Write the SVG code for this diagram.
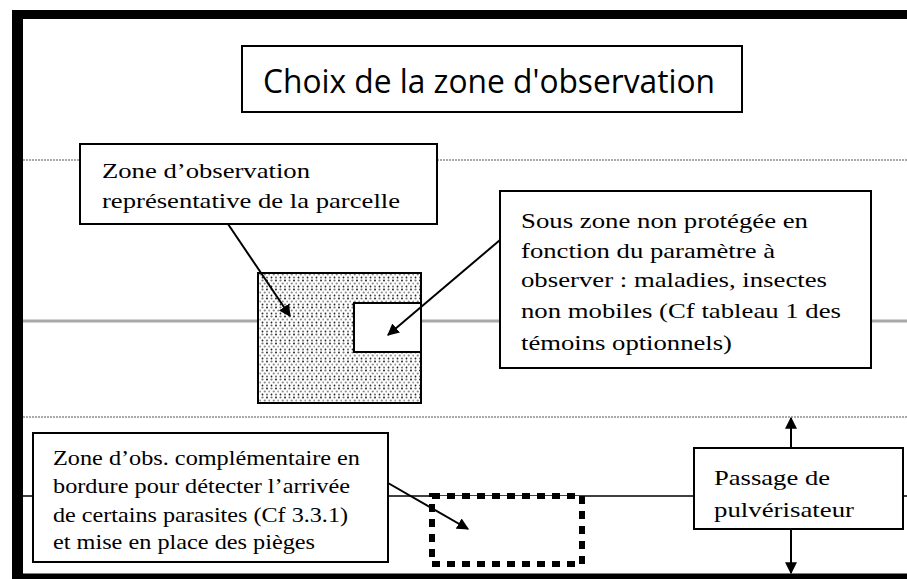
<svg xmlns="http://www.w3.org/2000/svg" width="907" height="579" viewBox="0 0 907 579">
<style>
.box{fill:#fff;stroke:#000;stroke-width:2}
.t{font-family:"Liberation Serif","Times New Roman",serif;font-size:22px;fill:#000}
.title{font-family:"Open Sans","DejaVu Sans",sans-serif;font-size:33px;fill:#000}
.dot{stroke:#aaa;stroke-width:2;stroke-dasharray:2 1}
.gray{stroke:#a8a8a8;stroke-width:3}
.ln{stroke:#000;stroke-width:2;fill:none}
</style>
<defs>
<marker id="ah" viewBox="0 0 10 10" refX="9" refY="5" markerWidth="6" markerHeight="6" orient="auto-start-reverse" markerUnits="strokeWidth">
<path d="M0,0 L10,5 L0,10 z" fill="#000"/>
</marker>
<pattern id="stip" width="9" height="9" patternUnits="userSpaceOnUse">
<rect width="9" height="9" fill="#fff"/>
<circle cx="1.5" cy="1.5" r="1.1" fill="#777"/>
<circle cx="6" cy="1.5" r="0.9" fill="#111"/>
<circle cx="3.75" cy="4.5" r="1.1" fill="#888"/>
<circle cx="8.25" cy="4.5" r="1" fill="#999"/>
<circle cx="1.5" cy="7.5" r="0.9" fill="#222"/>
<circle cx="6" cy="7.5" r="1.1" fill="#777"/>
</pattern>
</defs>

<rect width="907" height="579" fill="#fff"/>

<!-- frame -->
<g id="frame">
<line x1="12" y1="14.5" x2="907" y2="14.5" stroke="#000" stroke-width="9"/>
<line x1="17.5" y1="10" x2="17.5" y2="579" stroke="#000" stroke-width="11"/>
<line x1="12" y1="577" x2="907" y2="577" stroke="#000" stroke-width="7"/>
</g>

<!-- background lines -->
<g id="rows">
<line class="dot" x1="23" y1="160" x2="907" y2="160"/>
<line class="gray" x1="23" y1="321" x2="907" y2="321"/>
<line class="dot" x1="23" y1="417" x2="907" y2="417"/>
<line stroke="#000" stroke-width="1.5" x1="23" y1="496" x2="907" y2="496"/>
</g>

<g id="title">
<rect class="box" x="242" y="46" width="500" height="66"/>
<text class="title" x="263" y="93" textLength="452" lengthAdjust="spacingAndGlyphs">Choix de la zone d'observation</text>
</g>

<g id="zone-obs">
<rect x="258" y="273" width="163" height="130" fill="url(#stip)" stroke="#000" stroke-width="2"/>
</g>

<g id="sous-zone">
<rect class="box" x="354" y="303" width="67" height="49"/>
</g>

<g id="zone-bordure">
<rect x="432" y="496" width="150" height="68" fill="#fff" stroke="#000" stroke-width="6" stroke-dasharray="8 7"/>
</g>

<g id="label-zone-obs">
<rect class="box" x="80" y="144" width="357" height="80"/>
<text class="t" x="102" y="178" textLength="208" lengthAdjust="spacingAndGlyphs">Zone d’observation</text>
<text class="t" x="102" y="208" textLength="298" lengthAdjust="spacingAndGlyphs">représentative de la parcelle</text>
</g>

<g id="label-sous-zone">
<rect class="box" x="500" y="191" width="371" height="177"/>
<text class="t" x="521" y="228" textLength="287" lengthAdjust="spacingAndGlyphs">Sous zone non protégée en</text>
<text class="t" x="521" y="258" textLength="254" lengthAdjust="spacingAndGlyphs">fonction du paramètre à</text>
<text class="t" x="521" y="287" textLength="306" lengthAdjust="spacingAndGlyphs">observer : maladies, insectes</text>
<text class="t" x="521" y="318" textLength="320" lengthAdjust="spacingAndGlyphs">non mobiles (Cf tableau 1 des</text>
<text class="t" x="521" y="350" textLength="211" lengthAdjust="spacingAndGlyphs">témoins optionnels)</text>
</g>

<g id="label-bordure">
<rect class="box" x="33" y="433" width="355" height="129"/>
<text class="t" x="53" y="465" textLength="307" lengthAdjust="spacingAndGlyphs">Zone d’obs. complémentaire en</text>
<text class="t" x="53" y="493" textLength="297" lengthAdjust="spacingAndGlyphs">bordure pour détecter l’arrivée</text>
<text class="t" x="53" y="522" textLength="295" lengthAdjust="spacingAndGlyphs">de certains parasites (Cf 3.3.1)</text>
<text class="t" x="53" y="549" textLength="262" lengthAdjust="spacingAndGlyphs">et mise en place des pièges</text>
</g>

<g id="passage">
<rect class="box" x="694" y="448" width="209" height="81"/>
<text class="t" x="714" y="485" textLength="116" lengthAdjust="spacingAndGlyphs">Passage de</text>
<text class="t" x="714" y="517" textLength="140" lengthAdjust="spacingAndGlyphs">pulvérisateur</text>
</g>

<g id="connectors">
<line class="ln" x1="228" y1="224" x2="290" y2="316" marker-end="url(#ah)"/>
<line class="ln" x1="500" y1="240" x2="388" y2="335" marker-end="url(#ah)"/>
<line class="ln" x1="388" y1="483" x2="468" y2="529" marker-end="url(#ah)"/>
<line class="ln" x1="791" y1="448" x2="791" y2="418" marker-end="url(#ah)"/>
<line class="ln" x1="791" y1="529" x2="791" y2="573" marker-end="url(#ah)"/>
</g>
</svg>
